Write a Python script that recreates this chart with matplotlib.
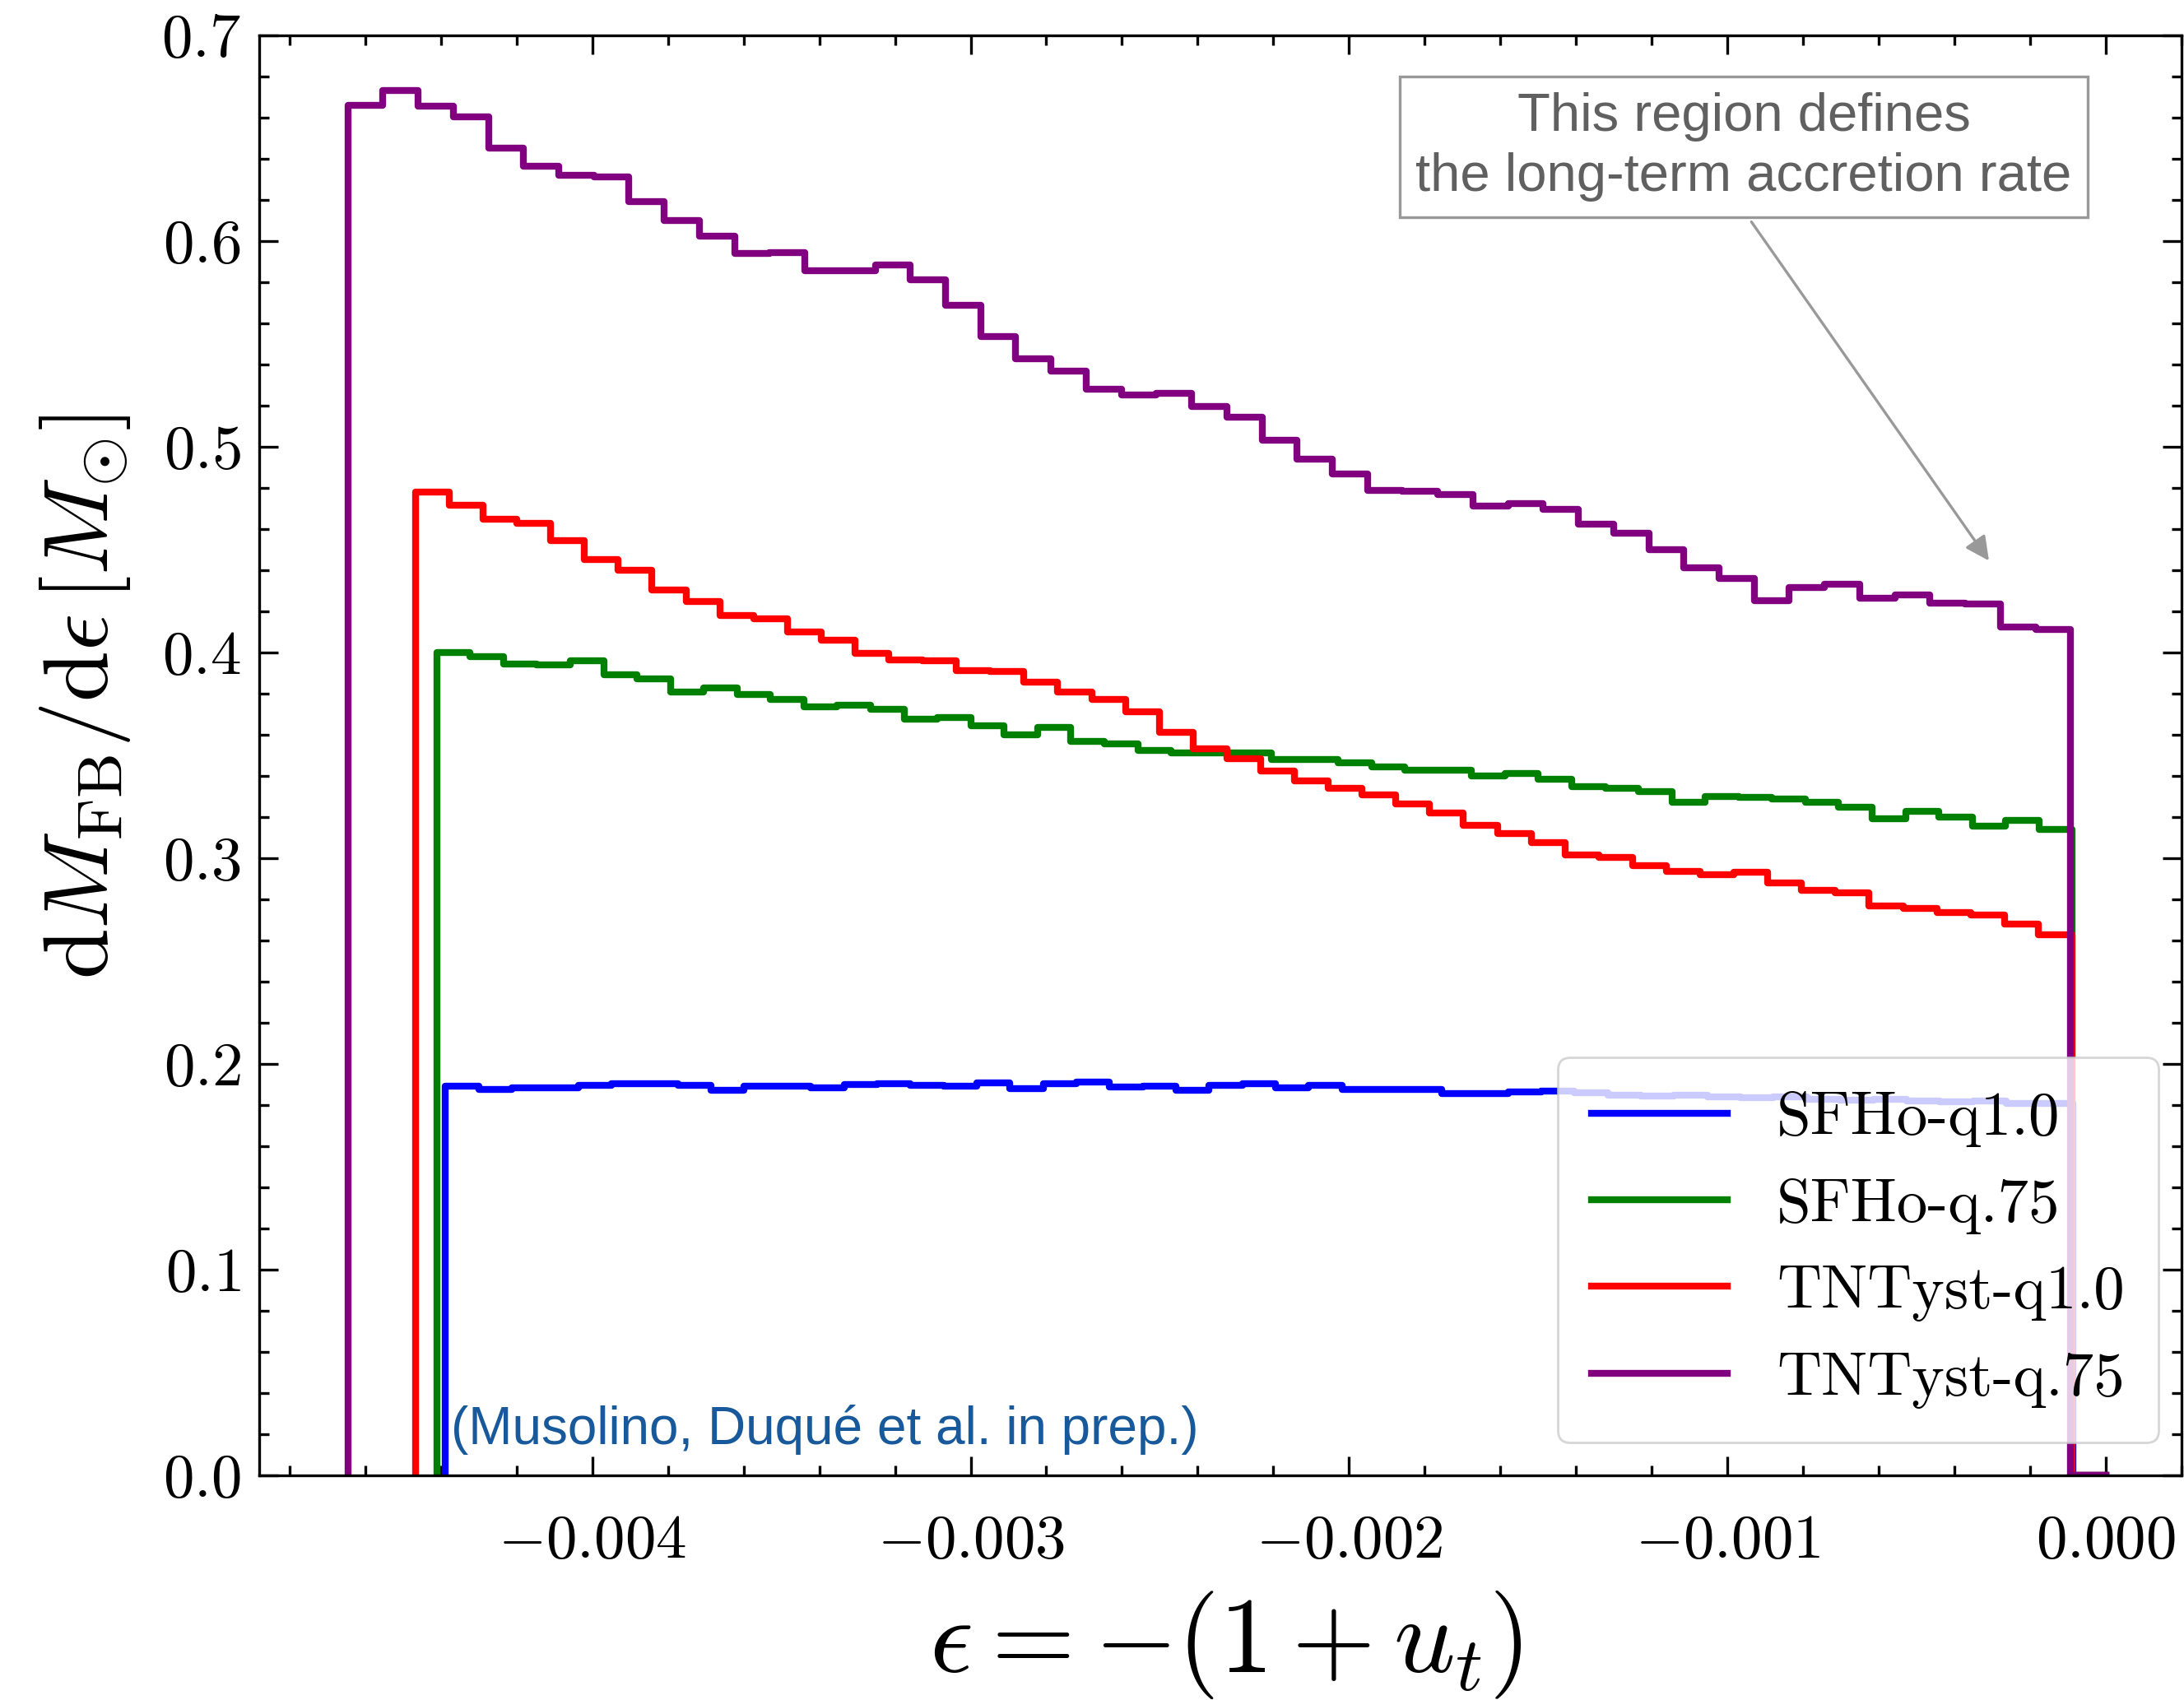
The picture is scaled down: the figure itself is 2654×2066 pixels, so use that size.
import matplotlib
matplotlib.use('Agg')
import matplotlib.pyplot as plt
from matplotlib.ticker import MultipleLocator
import numpy as np

plt.rcParams['mathtext.fontset'] = 'cm'
plt.rcParams['font.family'] = 'serif'
plt.rcParams['font.serif'] = ['cmr10']
plt.rcParams['axes.unicode_minus'] = False

# dM/deps histograms: 50 equal bins from the lowest epsilon up to 0 (last bin empty)
names = ['SFHo-q1.0', 'SFHo-q.75', 'TNTyst-q1.0', 'TNTyst-q.75']
colors = ['blue', 'green', 'red', 'purple']
eps_min = [-0.004388, -0.004411, -0.004467, -0.004646]

sfho_q10 = [0.1892, 0.1875, 0.1885, 0.1885, 0.1895, 0.1903, 0.1903, 0.1895, 0.1872, 0.1892,
            0.1892, 0.1883, 0.1899, 0.1903, 0.1895, 0.1892, 0.1908, 0.1879, 0.1903, 0.1912,
            0.1889, 0.1892, 0.1872, 0.1895, 0.1903, 0.1885, 0.1895, 0.1876, 0.1876, 0.1875,
            0.1855, 0.1855, 0.1865, 0.1868, 0.1860, 0.1850, 0.1845, 0.1850, 0.1840, 0.1835,
            0.1840, 0.1830, 0.1825, 0.1830, 0.1820, 0.1815, 0.1820, 0.1810, 0.1810, 0.0]
sfho_q75 = [0.3999, 0.3981, 0.3945, 0.3941, 0.3961, 0.3892, 0.3872, 0.3809, 0.3828, 0.3796,
            0.3772, 0.3735, 0.3745, 0.3725, 0.3676, 0.3685, 0.3645, 0.3601, 0.3636, 0.3569,
            0.3555, 0.3523, 0.3512, 0.3512, 0.3512, 0.3479, 0.3481, 0.3463, 0.3445, 0.3428,
            0.3428, 0.3402, 0.3412, 0.3385, 0.3348, 0.3339, 0.3325, 0.3272, 0.3299, 0.3295,
            0.3289, 0.3272, 0.3249, 0.3192, 0.3228, 0.3199, 0.3156, 0.3185, 0.3141, 0.0]
tnt_q10 = [0.4779, 0.4716, 0.4649, 0.4629, 0.4545, 0.4452, 0.4401, 0.4305, 0.4249, 0.4179,
           0.4165, 0.4099, 0.4061, 0.3996, 0.3965, 0.3959, 0.3912, 0.3908, 0.3855, 0.3808,
           0.3772, 0.3712, 0.3612, 0.3532, 0.3485, 0.3423, 0.3376, 0.3339, 0.3308, 0.3263,
           0.3219, 0.3160, 0.3119, 0.3076, 0.3015, 0.3005, 0.2965, 0.2935, 0.2921, 0.2932,
           0.2881, 0.2843, 0.2832, 0.2769, 0.2756, 0.2735, 0.2725, 0.2681, 0.2628, 0.0]
tnt_q75 = [0.6659, 0.6733, 0.6656, 0.6605, 0.6452, 0.6365, 0.6321, 0.6312, 0.6192, 0.6099,
           0.6025, 0.5939, 0.5945, 0.5855, 0.5856, 0.5884, 0.5813, 0.5689, 0.5537, 0.5429,
           0.5367, 0.5278, 0.5253, 0.5260, 0.5197, 0.5144, 0.5033, 0.4939, 0.4867, 0.4789,
           0.4786, 0.4768, 0.4712, 0.4725, 0.4695, 0.4625, 0.4581, 0.4499, 0.4412, 0.4361,
           0.4252, 0.4316, 0.4332, 0.4265, 0.4279, 0.4239, 0.4235, 0.4125, 0.4112, 0.0]
series = [sfho_q10, sfho_q75, tnt_q10, tnt_q75]

xticks = [-0.004, -0.003, -0.002, -0.001, 0.0]
xtick_labels = ['$-0.004$', '$-0.003$', '$-0.002$', '$-0.001$', '$0.000$']
yticks = [0.0, 0.1, 0.2, 0.3, 0.4, 0.5, 0.6, 0.7]
ytick_labels = ['$0.0$', '$0.1$', '$0.2$', '$0.3$', '$0.4$', '$0.5$', '$0.6$', '$0.7$']

fig = plt.figure(figsize=(13.27, 10.33), dpi=200)
ax = fig.add_axes([315 / 2654, 273 / 2066, 2336 / 2654, 1750 / 2066])

for name, col, e0, vals in zip(names, colors, eps_min, series):
    edges = np.linspace(e0, 0.0, len(vals) + 1)
    x = np.r_[edges[0], edges]
    y = np.r_[0.0, vals, vals[-1]]
    ax.plot(x, y, drawstyle='steps-post', color=col, lw=3, label=name)

ax.set_xlim(-0.00488, 0.0002)
ax.set_ylim(0, 0.7)
ax.set_xticks(xticks, xtick_labels)
ax.set_yticks(yticks, ytick_labels)
ax.xaxis.set_minor_locator(MultipleLocator(0.0002))
ax.yaxis.set_minor_locator(MultipleLocator(0.02))
ax.tick_params(which='both', direction='in', top=True, right=True, width=1.2, labelsize=27)
ax.tick_params(which='major', length=8.3)
ax.tick_params(which='minor', length=4.3)
ax.tick_params(axis='x', pad=17)
ax.tick_params(axis='y', pad=8)
for sp in ax.spines.values():
    sp.set_linewidth(1.2)

ax.set_xlabel(r'$\epsilon = -(1 + u_t)$', fontsize=47)
ax.set_ylabel(r'$\mathrm{d}M_{\mathrm{FB}}/\mathrm{d}\epsilon\,[M_{\odot}]$', fontsize=40)
ax.xaxis.set_label_coords(0.5026, -0.079)
ax.yaxis.set_label_coords(-0.066, 0.541)

ax.legend(loc='lower right', bbox_to_anchor=(0.988, 0.023), borderaxespad=0,
          fontsize=27, handlelength=2.2, borderpad=0.55, framealpha=0.8)

ax.annotate('This region defines\nthe long-term accretion rate',
            xy=(-0.000302, 0.4428), xytext=(-0.000957, 0.6458),
            ha='center', va='center', fontsize=23.5, color='#606060',
            family='Liberation Sans', linespacing=1.27,
            bbox=dict(boxstyle='square,pad=0.3', fc='white', ec='#999999', lw=1.2),
            arrowprops=dict(arrowstyle='-|>', color='#999999', lw=1.2,
                            relpos=(0.49, 0.0), mutation_scale=22))

ax.text(-0.004374, 0.022, '(Musolino, Duqué et al. in prep.)', ha='left', va='center',
        fontsize=23, color='#17599a', family='Liberation Sans')

fig.savefig('out.png', dpi=200)
